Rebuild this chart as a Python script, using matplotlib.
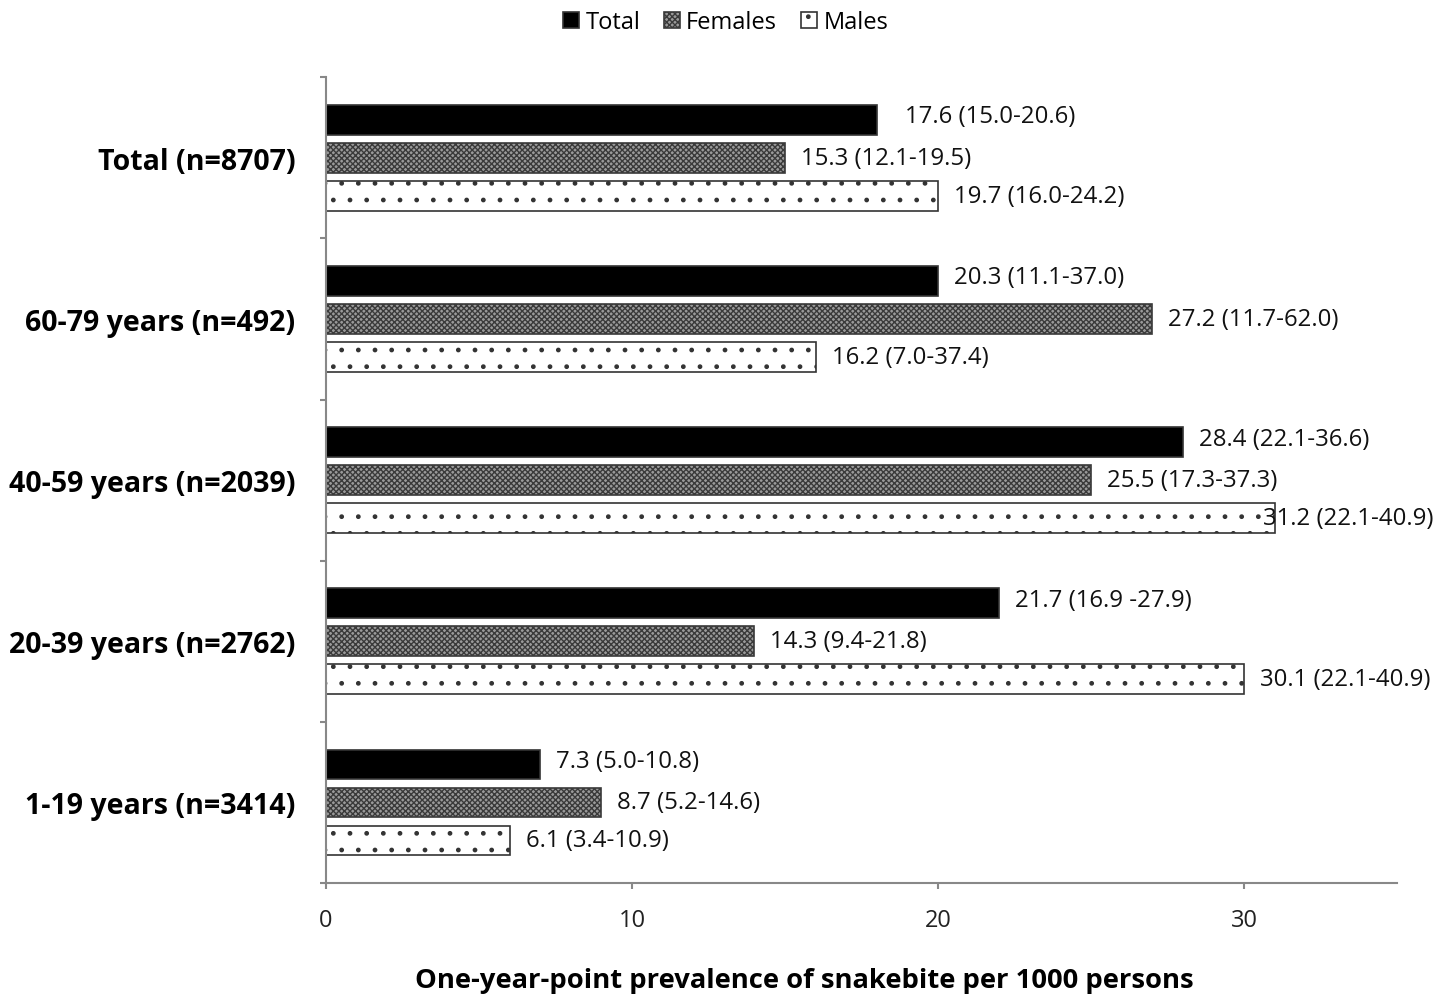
import matplotlib.pyplot as plt
import numpy as np
from matplotlib.patches import Patch

plt.rcParams['font.family'] = ['Open Sans', 'DejaVu Sans']
plt.rcParams['hatch.linewidth'] = 1.0

# groups, top to bottom
groups = ["Total (n=8707)", "60-79 years (n=492)", "40-59 years (n=2039)",
          "20-39 years (n=2762)", "1-19 years (n=3414)"]
series = ["Total", "Females", "Males"]

# bar lengths as drawn in the figure
total_vals = [18, 20, 28, 22, 7]
female_vals = [15, 27, 25, 14, 9]
male_vals = [20, 16, 31, 30, 6]

total_labels = ["17.6 (15.0-20.6)", "20.3 (11.1-37.0)", "28.4 (22.1-36.6)",
                "21.7 (16.9 -27.9)", "7.3 (5.0-10.8)"]
female_labels = ["15.3 (12.1-19.5)", "27.2 (11.7-62.0)", "25.5 (17.3-37.3)",
                 "14.3 (9.4-21.8)", "8.7 (5.2-14.6)"]
male_labels = ["19.7 (16.0-24.2)", "16.2 (7.0-37.4)", "31.2 (22.1-40.9)",
               "30.1 (22.1-40.9)", "6.1 (3.4-10.9)"]

fig = plt.figure(figsize=(14.51, 10.03), dpi=100)
ax = fig.add_axes([0.2247, 0.1186, 0.7381, 0.8034])

n = len(groups)
centers = np.arange(n)[::-1].astype(float)
step = 0.236
h = 0.185

styles = [
    dict(facecolor="black", edgecolor="#333333", hatch=None),
    dict(facecolor="#9a9a9a", edgecolor="#3a3a3a", hatch="xxxxxx"),
    dict(facecolor="white", edgecolor="#333333", hatch="."),
]
vals = [total_vals, female_vals, male_vals]
labs = [total_labels, female_labels, male_labels]

for k in range(3):
    y = centers + step * (1 - k)
    ax.barh(y, vals[k], height=h, linewidth=1.2, **styles[k])
    for i in range(n):
        dx = 11.5
        dy = 0
        if k == 0:
            dy = 2.5
        if k == 0 and i == 0:
            dx = 20
        if k == 2 and i == 2:
            dx = -8.6
        ax.annotate(labs[k][i], (vals[k][i], y[i]), xytext=(dx, dy),
                    textcoords="offset points", va="center", ha="left",
                    fontsize=17.3, color="#111111")

ax.set_xlim(0, 35)
ax.set_ylim(-0.5, n - 0.5)
ax.set_xticks([0, 10, 20, 30])
ax.set_xticklabels(["0", "10", "20", "30"], fontsize=17)
ax.tick_params(axis="x", colors="#888888", length=4.3, width=1.5, pad=14,
               labelcolor="#222222")
ax.set_yticks(centers)
ax.set_yticklabels(groups, fontsize=20.5, fontweight="bold")
ax.tick_params(axis="y", which="major", length=0, pad=22)
ax.set_yticks(np.arange(n + 1) - 0.5, minor=True)
ax.tick_params(axis="y", which="minor", length=4.3, width=1.5, colors="#888888")

for s in ["top", "right"]:
    ax.spines[s].set_visible(False)
for s in ["left", "bottom"]:
    ax.spines[s].set_color("#888888")
    ax.spines[s].set_linewidth(1.5)

ax.set_xlabel("One-year-point prevalence of snakebite per 1000 persons",
              fontsize=19.7, fontweight="bold", labelpad=25, x=0.447)

handles = [Patch(label=series[k], linewidth=1.2, **styles[k]) for k in range(3)]
fig.legend(handles=handles, loc="center", bbox_to_anchor=(0.5, 0.977), ncol=3,
           frameon=False, fontsize=17, handlelength=0.7, handleheight=0.7,
           handletextpad=0.25, columnspacing=1.0)

fig.savefig("out.png", dpi=100)
